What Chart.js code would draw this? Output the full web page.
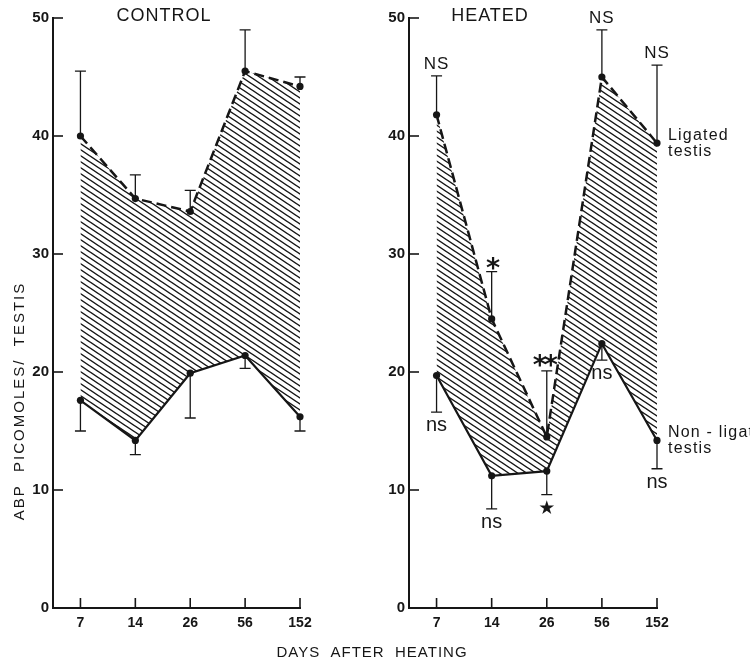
<!DOCTYPE html>
<html><head><meta charset="utf-8">
<script src="https://cdn.jsdelivr.net/npm/chart.js@4/dist/chart.umd.min.js"></script>
<style>
html,body{margin:0;padding:0;background:#fff;}
#wrap{position:relative;width:750px;height:661px;overflow:hidden;background:#fff;}
#c1{position:absolute;left:0;top:0;width:750px;height:661px;}
#c2{position:absolute;left:375px;top:0;width:375px;height:661px;}
</style></head><body>
<div id="wrap"><canvas id="c1" width="750" height="661"></canvas><canvas id="c2" width="375" height="661"></canvas></div>
<script>
// ---- data ----
const categories = ['7', '14', '26', '56', '152'];
const yTickValues = [0, 10, 20, 30, 40, 50];

const controlLigated        = [40.0, 34.7, 33.6, 45.5, 44.2];
const controlLigatedUpper   = [45.5, 36.7, 35.4, 49.0, 45.0];
const controlNonLigated     = [17.6, 14.2, 19.9, 21.4, 16.2];
const controlNonLigatedLower= [15.0, 13.0, 16.1, 20.3, 15.0];

const heatedLigated         = [41.8, 24.5, 14.5, 45.0, 39.4];
const heatedLigatedUpper    = [45.1, 28.5, 20.1, 49.0, 46.0];
const heatedNonLigated      = [19.7, 11.2, 11.6, 22.4, 14.2];
const heatedNonLigatedLower = [16.6, 8.4, 9.6, 21.0, 11.8];

const heatedUpperMarks = ['NS', '*', '**', 'NS', 'NS'];
const heatedLowerMarks = ['ns', 'ns', '★', 'ns', 'ns'];
const seriesLabels = ['Ligated\ntestis', 'Non - ligated\ntestis'];

// ---- styling ----
const ink = '#161616';
const SANS = '"Liberation Sans", Arial, sans-serif';

function makePattern() {
  const t = document.createElement('canvas');
  t.width = 9; t.height = 6;
  const c = t.getContext('2d');
  c.strokeStyle = ink; c.lineWidth = 1.4;
  c.beginPath();
  for (let k = -3; k <= 3; k++) { c.moveTo(-9, -6 + 6 * k); c.lineTo(18, 12 + 6 * k); }
  c.stroke();
  const main = document.createElement('canvas').getContext('2d');
  return main.createPattern(t, 'repeat');
}

function text(ctx, s, x, y, font, align, spacing) {
  ctx.font = font;
  ctx.textAlign = align || 'center';
  ctx.letterSpacing = spacing || '0px';
  ctx.fillText(s, x, y);
  ctx.letterSpacing = '0px';
}

const decor = {
  id: 'decor',
  afterDatasetsDraw(chart, args, o) {
    const ctx = chart.ctx, x = chart.scales.x, y = chart.scales.y;
    ctx.save();
    ctx.strokeStyle = ink; ctx.fillStyle = ink;
    // inward tick marks
    ctx.lineWidth = 1.6;
    yTickValues.forEach(v => {
      if (v === 0) return;
      const py = y.getPixelForValue(v);
      ctx.beginPath(); ctx.moveTo(x.left, py); ctx.lineTo(x.left + 10, py); ctx.stroke();
    });
    categories.forEach((c, i) => {
      const px = x.getPixelForValue(i);
      ctx.beginPath(); ctx.moveTo(px, y.bottom); ctx.lineTo(px, y.bottom - 10); ctx.stroke();
    });
    // error bars
    ctx.lineWidth = 1.3;
    const bar = (i, from, to) => {
      const px = x.getPixelForValue(i), a = y.getPixelForValue(from), b = y.getPixelForValue(to);
      ctx.beginPath(); ctx.moveTo(px, a); ctx.lineTo(px, b);
      ctx.moveTo(px - 5.5, b); ctx.lineTo(px + 5.5, b); ctx.stroke();
    };
    o.upper.forEach((v, i) => bar(i, o.upperBase[i], v));
    o.lower.forEach((v, i) => bar(i, o.lowerBase[i], v));
    ctx.textBaseline = 'alphabetic';
    // significance marks
    if (o.upperMarks) {
      o.upperMarks.forEach((m, i) => {
        const px = x.getPixelForValue(i), cap = y.getPixelForValue(o.upper[i]);
        if (m === 'NS') text(ctx, m, px, cap - 7, '17px ' + SANS, 'center', '1px');
        else text(ctx, m, px - (m.length > 1 ? 3 : 0), cap + (m.length > 1 ? 3 : 5), 'bold 27px "DejaVu Sans"', 'center', '-3px');
      });
      o.lowerMarks.forEach((m, i) => {
        const px = x.getPixelForValue(i), cap = y.getPixelForValue(o.lower[i]);
        if (m === 'ns') text(ctx, m, px, cap + 19, '20px ' + SANS, 'center', '0px');
        else text(ctx, m, px, cap + 19, '19px "DejaVu Sans"', 'center', '0px');
      });
      // series labels beside the last points
      const last = categories.length - 1;
      [o.upperBase, o.lowerBase].forEach((arr, k) => {
        const px = x.getPixelForValue(last) + 11, py = y.getPixelForValue(arr[last]);
        const lines = seriesLabels[k].split('\n');
        text(ctx, lines[0], px, py - 3, '16px ' + SANS, 'left', '1.2px');
        text(ctx, lines[1], px, py + 13, '16px ' + SANS, 'left', '1.2px');
      });
    }
    ctx.restore();
  },
  afterDraw(chart, args, o) {
    const ctx = chart.ctx;
    ctx.save();
    ctx.fillStyle = ink; ctx.textBaseline = 'alphabetic';
    text(ctx, o.title, o.titleX, 21, '18px ' + SANS, 'center', '1px');
    if (o.axisTitles) {
      text(ctx, 'DAYS  AFTER  HEATING', 372, 657, '15px ' + SANS, 'center', '1px');
      ctx.translate(20, 401);
      ctx.rotate(-Math.PI / 2);
      ctx.textBaseline = 'middle';
      text(ctx, 'ABP  PICOMOLES/  TESTIS', 0, 0, '15px ' + SANS, 'center', '2px');
    }
    ctx.restore();
  }
};

function panel(canvas, lig, ligUp, non, nonLo, cfg) {
  const pattern = makePattern();
  return new Chart(canvas, {
    type: 'line',
    data: {
      datasets: [
        { label: 'Ligated testis', data: lig.map((v, i) => ({ x: i, y: v })),
          borderColor: ink, borderWidth: 2.5, borderDash: [10, 5], fill: '+1', clip: false,
          backgroundColor: pattern, pointRadius: 3.6, pointBackgroundColor: ink,
          pointBorderWidth: 0, tension: 0 },
        { label: 'Non-ligated testis', data: non.map((v, i) => ({ x: i, y: v })),
          borderColor: ink, borderWidth: 2.2, fill: false, clip: false,
          pointRadius: 3.6, pointBackgroundColor: ink, pointBorderWidth: 0, tension: 0 }
      ]
    },
    options: {
      responsive: false, animation: false,
      layout: { padding: { left: 0, top: 18, right: cfg.padRight, bottom: 0 } },
      scales: {
        x: {
          type: 'linear', min: -0.5, max: categories.length - 1,
          afterBuildTicks: s => { s.ticks = categories.map((c, i) => ({ value: i })); },
          afterFit: s => { s.height = 53; },
          grid: { display: false, drawTicks: false },
          border: { display: true, color: ink, width: 2 },
          ticks: { callback: v => categories[v], color: ink, padding: 7,
                   font: { family: SANS, size: 14, weight: 'bold' }, maxRotation: 0, autoSkip: false }
        },
        y: {
          min: 0, max: 50,
          afterBuildTicks: s => { s.ticks = yTickValues.map(v => ({ value: v })); },
          afterFit: s => { s.width = cfg.axisWidth; },
          grid: { display: false, drawTicks: false },
          border: { display: true, color: ink, width: 2 },
          ticks: { color: ink, padding: 4, font: { family: SANS, size: 15, weight: 'bold' } }
        }
      },
      plugins: {
        legend: { display: false }, tooltip: { enabled: false },
        decor: Object.assign({ upper: ligUp, upperBase: lig, lower: nonLo, lowerBase: non }, cfg.decor)
      }
    },
    plugins: [decor]
  });
}

panel(document.getElementById('c1'), controlLigated, controlLigatedUpper, controlNonLigated, controlNonLigatedLower,
  { padRight: 450, axisWidth: 53, decor: { title: 'CONTROL', titleX: 164, axisTitles: true } });
panel(document.getElementById('c2'), heatedLigated, heatedLigatedUpper, heatedNonLigated, heatedNonLigatedLower,
  { padRight: 93, axisWidth: 34, decor: { title: 'HEATED', titleX: 115, axisTitles: false,
    upperMarks: heatedUpperMarks, lowerMarks: heatedLowerMarks } });
</script>
</body></html>
